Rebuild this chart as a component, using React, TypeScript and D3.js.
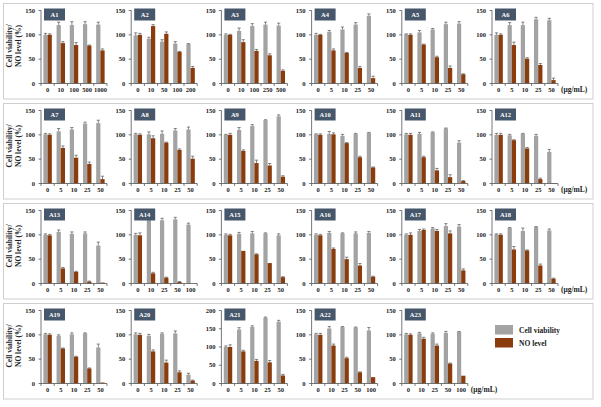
import React from "react";
import * as d3 from "d3";

const panelNames = ["A1","A2","A3","A4","A5","A6","A7","A8","A9","A10","A11","A12","A13","A14","A15","A16","A17","A18","A19","A20","A21","A22","A23"];

const doseLabels: string[][] = [
  ["0","10","100","500","1000"],
  ["0","10","50","100","200"],
  ["0","10","100","250","500"],
  ["0","5","10","25","50"],
  ["0","5","10","25","50"],
  ["0","5","10","25","50"],
  ["0","5","10","25","50"],
  ["0","5","10","25","50"],
  ["0","5","10","25","50"],
  ["0","5","10","25","50"],
  ["0","5","10","25","50"],
  ["0","5","10","25","50"],
  ["0","5","10","25","50"],
  ["0","10","25","50","100"],
  ["0","5","10","25","50"],
  ["0","5","10","25","50"],
  ["0","5","10","25","50"],
  ["0","5","10","25","50"],
  ["0","5","10","25","50"],
  ["0","5","10","25","50"],
  ["0","5","10","25","50"],
  ["0","10","25","50","100"],
  ["0","10","25","50","100"],
];

const viability: number[][] = [
  [100,120,120,122,121],
  [99,92,86,82,81],
  [100,108,118,121,119],
  [100,106,111,121,139],
  [101,105,111,122,123],
  [100,120,120,132,130],
  [101,107,111,123,124],
  [101,101,102,109,111],
  [100,110,118,130,138],
  [101,102,98,102,104],
  [101,102,105,113,84],
  [100,99,102,98,65],
  [100,106,102,103,78],
  [100,138,130,132,121],
  [100,102,103,103,99],
  [100,104,103,103,104],
  [100,108,113,118,117],
  [101,114,108,116,109],
  [101,98,101,103,74],
  [101,98,102,103,18],
  [100,148,155,180,169],
  [101,113,116,115,109],
  [101,103,102,104,106],
];

const viabilityErr: number[][] = [
  [3,6,7,5,5],[5,3,4,4,1],[2,6,5,5,5],[3,3,5,4,4],[1,4,2,4,4],[4,5,6,4,4],
  [2,6,4,3,6],[2,5,6,4,5],[1,5,3,1,3],[1,5,3,1,1],[2,3,1,1,4],[3,2,1,3,5],
  [2,4,4,3,7],[3,4,4,4,3],[2,3,4,1,3],[2,3,1,3,3],[2,3,2,5,4],[1,1,6,1,3],
  [2,2,3,1,7],[3,3,2,5,3],[3,5,3,2,4],[2,4,1,1,6],[2,2,2,3,1],
];

const noLevel: number[][] = [
  [100,83,79,78,68],
  [100,118,102,65,32],
  [100,85,67,58,26],
  [100,68,63,32,11],
  [100,80,54,32,19],
  [100,79,51,38,7],
  [100,73,53,40,9],
  [100,93,84,69,51],
  [100,67,42,37,14],
  [100,101,83,54,33],
  [100,54,27,13,5],
  [100,89,72,9,1],
  [99,31,24,4,2],
  [99,21,12,3,0],
  [99,67,60,42,13],
  [99,71,50,37,14],
  [100,110,108,103,27],
  [100,70,68,37,10],
  [100,72,55,31,2],
  [100,66,43,23,6],
  [100,88,62,58,22],
  [100,78,52,23,13],
  [100,92,78,41,16],
];

const noErr: number[][] = [
  [2,3,5,1,3],[3,3,4,1,3],[1,5,3,3,2],[1,3,1,3,4],[2,1,2,4,1],[2,6,2,3,4],
  [2,4,5,4,6],[2,5,1,2,5],[3,2,6,4,2],[2,3,1,2,1],[3,2,4,5,1],[3,1,2,2,0],
  [2,2,1,1,0],[5,2,1,1,0],[2,0,1,0,1],[2,2,4,4,1],[4,2,3,5,3],[2,6,1,3,1],
  [2,1,1,1,0],[3,3,5,3,1],[6,3,4,5,3],[3,3,2,1,0],[2,3,3,1,0],
];

const yMaxes = [150,150,150,150,150,150,150,150,150,150,150,150,150,150,150,150,150,150,150,150,200,150,150];

const legendLabels = ["Cell viability", "NO level"];
const unitLabel = "(μg/mL)";

const GRAY = "#a3a3a3";
const BROWN = "#8b3c0c";
const LABEL_BG = "#46566b";
const FONT = "'Liberation Serif', 'Times New Roman', serif";

function Panel({ idx }: { idx: number }) {
  const row = Math.floor(idx / 6);
  const col = idx % 6;
  const ax = 41 + 90.2 * col;
  const y0 = 83.5 + 100 * row;
  const yT = 10.5 + 100 * row;
  const width = 66;
  const yMax = yMaxes[idx];
  const y = d3.scaleLinear().domain([0, yMax]).range([y0, yT]);
  const labels = doseLabels[idx];
  const x = d3.scaleBand<string>().domain(labels).range([ax, ax + width]).paddingInner(0.36).paddingOuter(0.18);
  const x1 = d3.scaleBand<string>().domain(["v", "n"]).range([0, x.bandwidth()]).padding(0);
  const ticks = d3.range(0, yMax + 1, 50);
  const step = x.step();
  const series = [
    { key: "v", vals: viability[idx], errs: viabilityErr[idx], color: GRAY },
    { key: "n", vals: noLevel[idx], errs: noErr[idx], color: BROWN },
  ];
  return (
    <g>
      {series.map((s) =>
        s.vals.map((v, i) => {
          const bx = (x(labels[i]) as number) + (x1(s.key) as number);
          const bw = x1.bandwidth();
          const cx = bx + bw / 2;
          const e = s.errs[i];
          return (
            <g key={s.key + i}>
              <rect x={bx} y={y(v)} width={bw} height={y0 - y(v)} fill={s.color} />
              {e > 0 && (
                <g stroke="#555" strokeWidth={0.7}>
                  <line x1={cx} x2={cx} y1={y(v)} y2={y(v + e)} />
                  <line x1={cx - 1.6} x2={cx + 1.6} y1={y(v + e)} y2={y(v + e)} />
                </g>
              )}
            </g>
          );
        })
      )}
      {/* y axis */}
      <line x1={ax} x2={ax} y1={y0} y2={yT} stroke="#555" strokeWidth={0.8} />
      {ticks.map((t) => (
        <g key={t}>
          <line x1={ax - 2.5} x2={ax} y1={y(t)} y2={y(t)} stroke="#555" strokeWidth={0.8} />
          <text x={ax - 6} y={y(t)} dy="0.33em" textAnchor="end" fontSize={6.5} fontFamily={FONT} fontWeight="bold" fill="#222">{t}</text>
        </g>
      ))}
      {/* x axis */}
      <line x1={ax} x2={ax + width} y1={y0} y2={y0} stroke="#555" strokeWidth={0.8} />
      {d3.range(0, labels.length + 1).map((i) => (
        <line key={i} x1={ax + step * i} x2={ax + step * i} y1={y0} y2={y0 + 2.5} stroke="#555" strokeWidth={0.8} />
      ))}
      {labels.map((l) => (
        <text key={l} x={(x(l) as number) + x.bandwidth() / 2} y={y0 + 8.5} textAnchor="middle" fontSize={6.5} fontFamily={FONT} fontWeight="bold" fill="#222">{l}</text>
      ))}
      {/* panel label */}
      <rect x={ax + 3} y={yT - 2} width={21} height={12} fill={LABEL_BG} />
      <text x={ax + 13.5} y={yT + 4} dy="0.35em" textAnchor="middle" fontSize={6.5} fontFamily={FONT} fontWeight="bold" fill="#fff">{panelNames[idx]}</text>
      {(col === 5 || idx === panelNames.length - 1) && (
        <text x={ax + width + 3} y={y0 + 8.5} fontSize={7.5} fontFamily={FONT} fontWeight="bold" fill="#222">{unitLabel}</text>
      )}
    </g>
  );
}

export default function App() {
  const rows = [0, 1, 2, 3];
  return (
    <svg width={601} height={407} style={{ position: "absolute", left: 0, top: 0, background: "#fff" }}>
      <rect x={0} y={0} width={601} height={407} fill="#fff" />
      {rows.map((r) => (
        <g key={r}>
          <rect x={3.5} y={3.5 + 100 * r} width={589.5} height={95.5} fill="none" stroke="#cfcfcf" strokeWidth={1} />
          <text transform={`translate(12, ${46 + 100 * r}) rotate(-90)`} textAnchor="middle" fontSize={7.5} fontFamily={FONT} fontWeight="bold" fill="#222">
            <tspan x={0} dy={0}>Cell viability/</tspan>
            <tspan x={0} dy={8.5}>NO level (%)</tspan>
          </text>
        </g>
      ))}
      {panelNames.map((_, i) => (
        <Panel key={i} idx={i} />
      ))}
      {legendLabels.map((l, i) => (
        <g key={l}>
          <rect x={495} y={325 + 13 * i} width={18} height={9.5} fill={i === 0 ? GRAY : BROWN} />
          <text x={519} y={330 + 13 * i} dy="0.35em" fontSize={7.5} fontFamily={FONT} fontWeight="bold" fill="#222">{l}</text>
        </g>
      ))}
    </svg>
  );
}
